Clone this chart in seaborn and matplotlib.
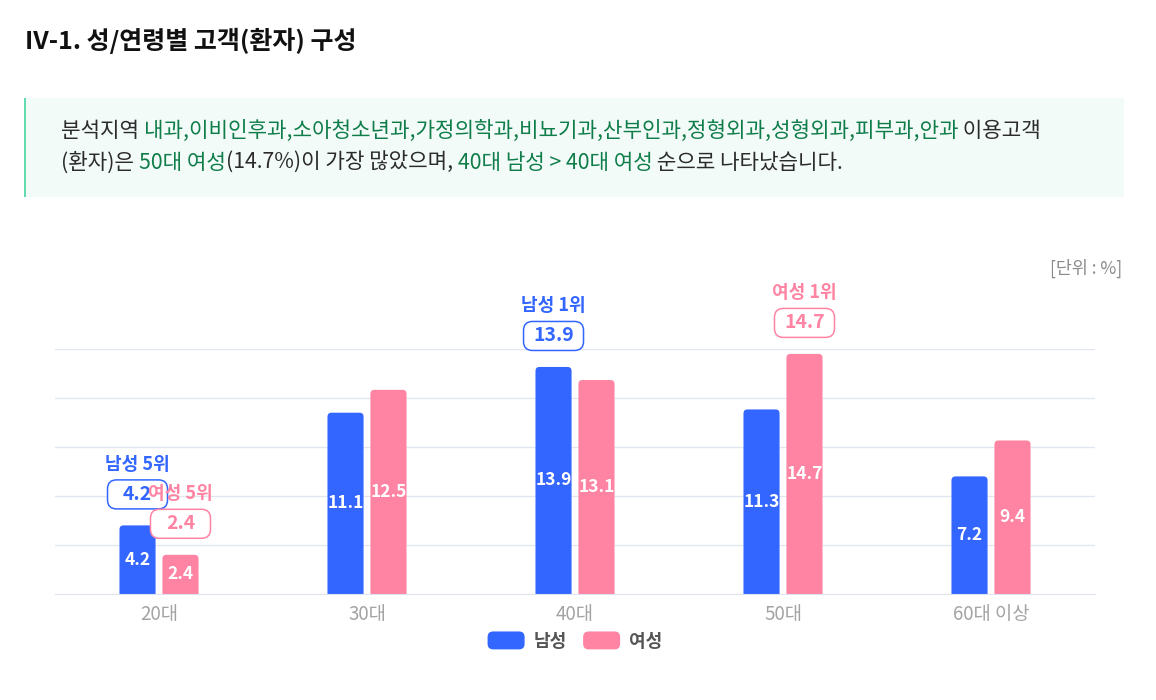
import pandas as pd
import seaborn as sns
import matplotlib
matplotlib.use('Agg')
import matplotlib.pyplot as plt
from matplotlib.patches import FancyBboxPatch, Patch, Rectangle
from matplotlib.legend_handler import HandlerPatch
from matplotlib.transforms import IdentityTransform

# data
ages = ['20대', '30대', '40대', '50대', '60대 이상']
male = [4.2, 11.1, 13.9, 11.3, 7.2]
female = [2.4, 12.5, 13.1, 14.7, 9.4]
sexes = ['남성', '여성']
# rank callouts: (sex, age index, label)
ranks = [('남성', 0, '남성 5위'), ('여성', 0, '여성 5위'),
         ('남성', 2, '남성 1위'), ('여성', 3, '여성 1위')]

title = 'IV-1. 성/연령별 고객(환자) 구성'
unit_text = '[단위 : %]'

BLUE = '#3366ff'
PINK = '#ff84a3'
GREEN = '#0f7d4a'
DARK = '#2b2b2b'

df = pd.DataFrame({
    'age': ages * 2,
    'sex': ['남성'] * len(ages) + ['여성'] * len(ages),
    'value': male + female,
})

sns.set_style('white')
plt.rcParams['font.family'] = ['Noto Sans CJK KR', 'DejaVu Sans']

fig = plt.figure(figsize=(11.56, 7), dpi=100)
W, H = 1156, 700

# title
fig.text(25 / W, 1 - 41 / H, title, fontsize=18, fontweight='bold', color='#111111',
         ha='left', va='center')

# summary box
fig.patches.append(Rectangle((24 / W, 1 - 197 / H), 1100 / W, 99 / H, transform=fig.transFigure,
                             facecolor='#f3fbf8', edgecolor='none', zorder=0))
fig.patches.append(Rectangle((24 / W, 1 - 197 / H), 1.5 / W, 99 / H, transform=fig.transFigure,
                             facecolor='#62dcae', edgecolor='none', zorder=1))

lines = [
    [('분석지역 ', DARK),
     ('내과,이비인후과,소아청소년과,가정의학과,비뇨기과,산부인과,정형외과,성형외과,피부과,안과', GREEN),
     (' 이용고객', DARK)],
    [('(환자)은 ', DARK), ('50대 여성', GREEN), ('(14.7%)이 가장 많았으며, ', DARK),
     ('40대 남성 > 40대 여성', GREEN), (' 순으로 나타났습니다.', DARK)],
]
renderer = fig.canvas.get_renderer()
for i, segs in enumerate(lines):
    x = 61
    y = 1 - (131 + 32 * i) / H
    for s, c in segs:
        t = fig.text(x / W, y, s, fontsize=15.3, color=c, ha='left', va='center')
        bb = t.get_window_extent(renderer)
        x += bb.width

fig.text(1122 / W, 1 - 268 / H, unit_text, fontsize=12.5, color='#8a8a8a', ha='right', va='center')

# chart
ax = fig.add_axes([55 / W, 106 / H, 1040 / W, 245 / H])
sns.barplot(data=df, x='age', y='value', hue='sex', palette=[BLUE, PINK], order=ages,
            hue_order=sexes, width=0.413, gap=0.16, saturation=1, errorbar=None,
            legend=False, ax=ax)

ax.set_xlim(-0.5, len(ages) - 0.5)
ax.set_ylim(0, 15)
ax.set_yticks([3, 6, 9, 12, 15])
ax.set_yticklabels([])
ax.tick_params(axis='y', length=0)
ax.grid(axis='y', color='#e2e6ef', lw=1)
ax.set_axisbelow(True)
for sp in ['left', 'right', 'top']:
    ax.spines[sp].set_visible(False)
ax.spines['bottom'].set_color('#dde2ec')
ax.set_xlabel('')
ax.set_ylabel('')
ax.tick_params(axis='x', which='major', length=0, pad=7, labelsize=13.5, labelcolor='#a3a3a3')
ax.set_xticks([i - 0.5 for i in range(len(ages) + 1)], minor=True)
ax.tick_params(axis='x', which='minor', length=5, color='#e4e8f1', width=1)

# swap the rectangles for rounded-top bars
px_x = 1040 / len(ages)      # pixels per x unit
px_y = 245 / 15              # pixels per y unit
bars = {}
for p, (sex, age) in zip(list(ax.patches), [(s, a) for s in sexes for a in range(len(ages))]):
    x0, w, h = p.get_x(), p.get_width(), p.get_height()
    ext = 5 / px_y
    fb = FancyBboxPatch((x0, -ext), w, h + ext,
                        boxstyle='round,pad=0,rounding_size=%f' % (4 / px_x),
                        mutation_aspect=px_x / px_y,
                        facecolor=p.get_facecolor(), edgecolor='none', zorder=2)
    p.remove()
    ax.add_patch(fb)
    bars[(sex, age)] = (x0 + w / 2, h)
    ax.text(x0 + w / 2, h / 2, f'{h:.1f}', color='white', fontsize=12.5, fontweight='bold',
            ha='center', va='center', zorder=3)

# rank callouts: label + outlined value box above the bar
for sex, idx, label in ranks:
    cx, h = bars[(sex, idx)]
    col = BLUE if sex == '남성' else PINK
    dx, dy = ax.transData.transform((cx, h))
    box = FancyBboxPatch((dx - 30, dy + 31 - 14.5), 60, 29,
                         boxstyle='round,pad=0,rounding_size=9', transform=IdentityTransform(),
                         facecolor='white', edgecolor=col, lw=1.1, zorder=5)
    fig.add_artist(box)
    fig.text(dx / W, (dy + 31) / H, f'{h:.1f}', ha='center', va='center', fontsize=14,
             fontweight='bold', color=col, zorder=6)
    fig.text(dx / W, (dy + 61) / H, label, ha='center', va='center', fontsize=13,
             fontweight='bold', color=col, zorder=7)


class RoundHandler(HandlerPatch):
    def create_artists(self, legend, orig_handle, xdescent, ydescent, width, height, fontsize, trans):
        r = FancyBboxPatch((-xdescent, -ydescent), width, height,
                           boxstyle='round,pad=0,rounding_size=4',
                           facecolor=orig_handle.get_facecolor(), edgecolor='none', transform=trans)
        return [r]


handles = [Patch(facecolor=BLUE, label='남성'), Patch(facecolor=PINK, label='여성')]
fig.legend(handles=handles, loc='center', bbox_to_anchor=(575 / W, 1 - 641 / H), ncol=2,
           frameon=False, handlelength=2.05, handleheight=1.15, handletextpad=0.5,
           columnspacing=0.9, labelcolor='#555555', prop={'weight': 'bold', 'size': 13},
           handler_map={Patch: RoundHandler()})

fig.savefig('out.png', dpi=100)
